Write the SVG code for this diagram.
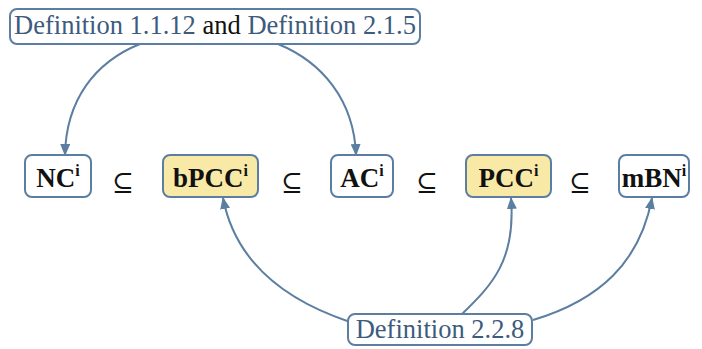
<svg xmlns="http://www.w3.org/2000/svg" width="702" height="349" viewBox="0 0 702 349">
<defs>
<marker id="ah" viewBox="0 0 12 10" refX="11" refY="5" markerWidth="12" markerHeight="10" markerUnits="userSpaceOnUse" orient="auto">
<path d="M0,0 L12,5 L0,10 Z" fill="#5b7ea1"/>
</marker>
<style>
.box{fill:#fff;stroke:#5b7ea1;stroke-width:2}
.hl{fill:#f8eaa6;stroke:#5b7ea1;stroke-width:2}
.lab{font-family:"Liberation Serif",serif;font-weight:bold;font-size:27px;fill:#111}
.sup{font-size:16px}
.def{font-family:"Liberation Serif",serif;font-size:26.5px;fill:#3d5b7d}
.blk{fill:#111}
.sub{font-family:"DejaVu Serif",serif;font-size:26px;fill:#111}
.con{fill:none;stroke:#5b7ea1;stroke-width:2;marker-end:url(#ah)}
</style>
</defs>
<rect width="702" height="349" fill="#fff"/>
<g id="connectors">
<path class="con" d="M140,44 C95,62 66,100 65,155"/>
<path class="con" d="M278,44 C322,62 354,100 356,155"/>
<path class="con" d="M350,322 C290,302 236,265 223,198"/>
<path class="con" d="M462,314 C492,285 516,260 511,198"/>
<path class="con" d="M533,320 C600,300 640,262 652,198"/>
</g>
<g id="top">
<rect class="box" x="10" y="9" width="410" height="35" rx="7"/>
<text class="def" x="215" y="34" text-anchor="middle">Definition 1.1.12 <tspan class="blk">and</tspan> Definition 2.1.5</text>
</g>
<g id="NC">
<rect class="box" x="25" y="155" width="66" height="42" rx="7"/>
<text class="lab" x="58" y="187" text-anchor="middle">NC<tspan class="sup" dy="-11">i</tspan></text>
</g>
<text class="sub" x="123" y="191" text-anchor="middle">⊆</text>
<g id="bPCC">
<rect class="hl" x="163" y="155" width="95" height="42" rx="7"/>
<text class="lab" x="210.5" y="187" text-anchor="middle">bPCC<tspan class="sup" dy="-11">i</tspan></text>
</g>
<text class="sub" x="292" y="191" text-anchor="middle">⊆</text>
<g id="AC">
<rect class="box" x="331" y="155" width="62" height="42" rx="7"/>
<text class="lab" x="362" y="187" text-anchor="middle">AC<tspan class="sup" dy="-11">i</tspan></text>
</g>
<text class="sub" x="427" y="191" text-anchor="middle">⊆</text>
<g id="PCC">
<rect class="hl" x="466" y="155" width="85" height="42" rx="7"/>
<text class="lab" x="508.5" y="187" text-anchor="middle">PCC<tspan class="sup" dy="-11">i</tspan></text>
</g>
<text class="sub" x="580" y="191" text-anchor="middle">⊆</text>
<g id="mBN">
<rect class="box" x="619" y="155" width="70" height="42" rx="7"/>
<text class="lab" x="654" y="187" text-anchor="middle">mBN<tspan class="sup" dy="-11">i</tspan></text>
</g>
<g id="bottom">
<rect class="box" x="348" y="314" width="184" height="31" rx="7"/>
<text class="def" x="440" y="338" text-anchor="middle">Definition 2.2.8</text>
</g>
</svg>
